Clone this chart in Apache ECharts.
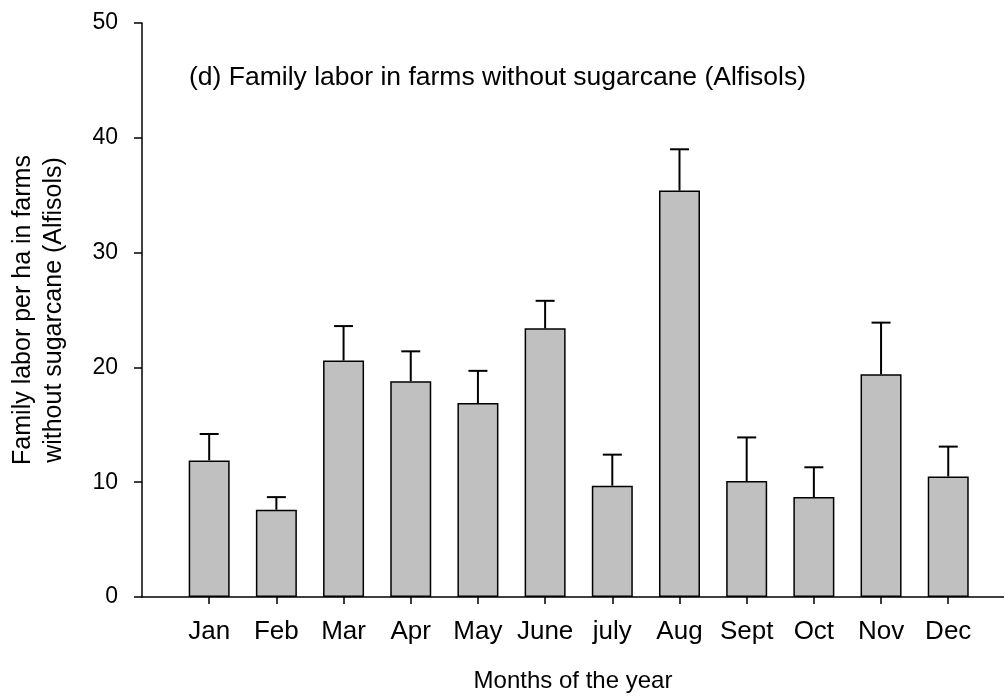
<!DOCTYPE html>
<html>
<head>
<meta charset="utf-8">
<script src="https://cdn.jsdelivr.net/npm/echarts@6/dist/echarts.min.js"></script>
<style>
  html, body { margin: 0; padding: 0; background: #fff; }
  #chart { width: 1004px; height: 698px; }
</style>
</head>
<body>
<div id="chart"></div>
<script>
// Monthly family labor per ha (mean and upper error) in farms without sugarcane
const months = ['Jan', 'Feb', 'Mar', 'Apr', 'May', 'June', 'july', 'Aug', 'Sept', 'Oct', 'Nov', 'Dec'];
const meanLabor = [11.9, 7.6, 20.6, 18.8, 16.9, 23.4, 9.7, 35.4, 10.1, 8.7, 19.4, 10.5];
const errorUp = [2.3, 1.1, 3.0, 2.6, 2.8, 2.4, 2.7, 3.6, 3.8, 2.6, 4.5, 2.6];
const yTicks = [0, 10, 20, 30, 40, 50];

const FONT = '"Liberation Sans", Arial, Helvetica, sans-serif';
const positions = months.map((m, i) => i + 1);

const barData = meanLabor.map((v, i) => [positions[i], v]);
const errData = meanLabor.map((v, i) => [positions[i], v, v + errorUp[i]]);

const chart = echarts.init(document.getElementById('chart'), null, { renderer: 'canvas' });

chart.setOption({
  animation: false,
  backgroundColor: '#ffffff',
  title: {
    text: '(d) Family labor in farms without sugarcane (Alfisols)',
    left: 184,
    top: 59,
    textStyle: { fontFamily: FONT, fontSize: 26.5, fontWeight: 'normal', color: '#000' }
  },
  grid: { left: 139, right: 0, top: 23, bottom: 98, containLabel: false },
  xAxis: {
    type: 'value',
    min: 0,
    max: 12.83,
    interval: 1,
    splitLine: { show: false },
    axisLine: { show: true, lineStyle: { color: '#000', width: 1.5 } },
    axisTick: { show: true, length: 7, customValues: positions, lineStyle: { color: '#000', width: 1.5 } },
    axisLabel: {
      customValues: positions,
      formatter: v => months[Math.round(v) - 1] || '',
      fontFamily: FONT, fontSize: 26, color: '#000', margin: 22
    },
    name: 'Months of the year',
    nameLocation: 'middle',
    nameGap: 72,
    nameTextStyle: { fontFamily: FONT, fontSize: 24, color: '#000' }
  },
  yAxis: {
    type: 'value',
    min: yTicks[0],
    max: yTicks[yTicks.length - 1],
    interval: 10,
    splitLine: { show: false },
    axisLine: { show: true, lineStyle: { color: '#000', width: 1.5 } },
    axisTick: { show: true, length: 8, lineStyle: { color: '#000', width: 1.5 } },
    axisLabel: { fontFamily: FONT, fontSize: 23, color: '#000', margin: 24 },
    name: 'Family labor per ha in farms\nwithout sugarcane (Alfisols)',
    nameLocation: 'middle',
    nameRotate: 90,
    nameGap: 72,
    nameTextStyle: { fontFamily: FONT, fontSize: 25, color: '#000', lineHeight: 31, align: 'center' }
  },
  series: [
    {
      type: 'bar',
      data: barData,
      barWidth: 41,
      itemStyle: { color: '#c0c0c0', borderColor: '#000', borderWidth: 1.5 },
      z: 2
    },
    {
      type: 'custom',
      data: errData,
      z: 3,
      renderItem: function (params, api) {
        const x = api.value(0);
        const base = api.coord([x, api.value(1)]);
        const top = api.coord([x, api.value(2)]);
        const half = 9.5;
        const style = { stroke: '#000', lineWidth: 2 };
        return {
          type: 'group',
          children: [
            { type: 'line', shape: { x1: base[0], y1: base[1], x2: top[0], y2: top[1] }, style },
            { type: 'line', shape: { x1: top[0] - half, y1: top[1], x2: top[0] + half, y2: top[1] }, style }
          ]
        };
      }
    }
  ]
});
</script>
</body>
</html>
